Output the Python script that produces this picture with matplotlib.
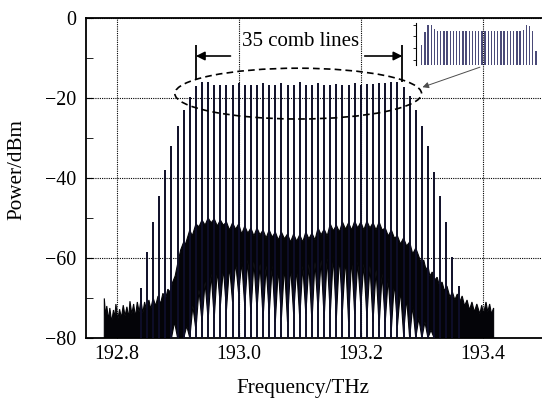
import numpy as np
import matplotlib
matplotlib.use("Agg")
from matplotlib import pyplot as plt
from matplotlib.patches import Ellipse

plt.rcParams['font.family'] = ['Liberation Serif', 'DejaVu Serif']
plt.rcParams['axes.unicode_minus'] = True

# ---- data ----
# comb lines: frequency (THz) and peak power (dBm)
comb_freq = [192.84, 192.85, 192.86, 192.87, 192.88, 192.89, 192.90, 192.91,
             192.92, 192.93, 192.94, 192.95, 192.96, 192.97, 192.98, 192.99,
             193.00, 193.01, 193.02, 193.03, 193.04, 193.05, 193.06, 193.07,
             193.08, 193.09, 193.10, 193.11, 193.12, 193.13, 193.14, 193.15,
             193.16, 193.17, 193.18, 193.19, 193.20, 193.21, 193.22, 193.23,
             193.24, 193.25, 193.26, 193.27, 193.28, 193.29, 193.30, 193.31,
             193.32, 193.33, 193.34, 193.35, 193.36]
comb_peak = [-67.5, -58.4, -51.0, -44.5, -38.0, -32.0, -27.0, -23.0,
             -19.7, -17.0, -16.1, -15.9, -16.7, -16.8, -16.7, -16.8,
             -16.3, -16.8, -16.7, -16.8, -16.3, -16.8, -16.8, -16.3,
             -16.7, -16.8, -16.1, -16.8, -16.7, -16.3, -16.8, -16.7,
             -16.5, -16.8, -16.7, -16.3, -16.8, -16.5, -16.5, -16.3,
             -16.3, -15.9, -15.9, -17.2, -19.5, -23.0, -27.0, -32.0,
             -38.5, -44.5, -51.0, -59.8, -67.0]
# lowest point of the dark skirt under each comb line (dBm)
skirt_low = [-80, -80, -80, -80, -80, -80, -80, -80,
             -80, -78, -76, -75.5, -75, -72, -73, -71,
             -69, -72, -74, -73, -75, -74, -76, -75,
             -76, -74, -75, -74, -76, -73, -75, -74,
             -75, -73, -76, -74, -72, -75, -76, -77,
             -76, -78, -77, -79, -80, -80, -80, -80,
             -80, -80, -80, -80, -80]
# top of the white notch halfway between neighbouring lines (dBm)
notch_top = [-80, -80, -80, -80, -80, -76, -80, -77,
             -72, -68, -66, -64, -63, -62.5, -62, -61,
             -61, -60.5, -61, -61.5, -62, -62, -62.5, -62,
             -62, -62.5, -62, -61.5, -61, -60.5, -60, -59.5,
             -59.5, -60, -60, -61, -61.5, -62, -63, -64,
             -65, -66, -68, -70, -72, -75, -76, -78,
             -80, -80, -80, -80]
# upper edge of the noise floor and of the pedestal under the comb
floor_freq = [192.780, 192.782, 192.784, 192.787, 192.789, 192.792, 192.795,
              192.797, 192.799, 192.802, 192.805, 192.808, 192.811, 192.814,
              192.817, 192.820, 192.822, 192.825, 192.828, 192.831, 192.834,
              192.837, 192.840, 192.843, 192.846, 192.849, 192.853, 192.856,
              192.860, 192.864, 192.868, 192.872, 192.876, 192.880, 192.884,
              192.888, 192.892, 192.896, 192.900, 192.905, 192.910, 192.913,
              192.920, 192.924, 192.930, 192.935, 192.940, 192.945, 192.950,
              192.955, 192.960, 192.965, 192.970, 192.975, 192.980, 192.985,
              192.990, 192.995, 193.000, 193.005, 193.010, 193.015, 193.020,
              193.025, 193.030, 193.035, 193.040, 193.045, 193.050, 193.055,
              193.060, 193.065, 193.070, 193.075, 193.080, 193.085, 193.090,
              193.095, 193.100, 193.105, 193.110, 193.115, 193.120, 193.125,
              193.130, 193.135, 193.140, 193.145, 193.150, 193.155, 193.160,
              193.165, 193.170, 193.175, 193.180, 193.185, 193.190, 193.195,
              193.200, 193.205, 193.210, 193.215, 193.220, 193.225, 193.230,
              193.235, 193.240, 193.245, 193.250, 193.255, 193.260, 193.265,
              193.270, 193.275, 193.280, 193.285, 193.290, 193.296, 193.300,
              193.303, 193.307, 193.310, 193.313, 193.317, 193.321, 193.325,
              193.329, 193.333, 193.337, 193.341, 193.346, 193.350, 193.354,
              193.358, 193.362, 193.366, 193.370, 193.374, 193.378, 193.382,
              193.386, 193.390, 193.395, 193.398, 193.401, 193.405, 193.408,
              193.411, 193.414, 193.4175]
floor_top = [-70.1, -74.5, -72.0, -75.5, -72.5, -76.0, -73.0,
             -75.0, -71.5, -75.5, -72.8, -75.0, -71.8, -74.5,
             -72.2, -75.0, -70.8, -74.0, -71.5, -74.8, -71.0,
             -73.5, -70.5, -73.8, -71.0, -73.0, -70.5, -72.8,
             -70.0, -72.0, -69.5, -71.5, -68.8, -70.5, -67.8,
             -68.5, -66.0, -64.5, -61.5, -58.0, -56.0, -56.5,
             -53.0, -54.5, -51.5, -52.2, -50.5, -51.8, -50.0,
             -51.2, -50.2, -52.0, -50.5, -51.8, -51.0, -53.0,
             -51.2, -52.8, -51.5, -54.0, -52.0, -53.8, -52.5,
             -54.5, -52.5, -54.2, -53.0, -55.0, -53.0, -54.8,
             -53.5, -55.5, -53.5, -55.2, -54.0, -56.0, -54.0,
             -55.8, -54.2, -56.0, -53.5, -55.2, -53.8, -55.5,
             -52.5, -54.2, -52.8, -54.5, -51.5, -53.2, -51.8,
             -53.5, -51.0, -52.8, -51.2, -53.0, -50.8, -52.5,
             -51.0, -53.0, -50.8, -52.5, -51.2, -53.0, -51.0,
             -53.0, -52.5, -54.5, -53.0, -55.0, -54.5, -56.5,
             -55.0, -57.0, -56.0, -59.0, -57.5, -60.0, -61.5,
             -60.5, -63.0, -62.0, -64.5, -63.5, -65.5, -64.8,
             -67.0, -66.0, -68.2, -67.0, -69.8, -68.5, -70.5,
             -69.0, -71.0, -69.5, -72.0, -70.5, -73.0, -71.0,
             -73.5, -71.5, -74.0, -71.8, -74.0, -71.0, -73.5,
             -71.5, -74.0, -72.5]
# inset: close-up of the flat part of the comb (arbitrary units)
inset_peak = [12.9, 23.7, 29.4, 29.4, 26.3, 24.9, 24.9, 24.9, 24.9, 24.9,
              24.3, 24.9, 24.3, 24.3, 24.3, 24.9, 24.3, 24.9, 24.3, 24.9,
              24.9, 24.3, 24.3, 24.3, 24.9, 24.9, 24.3, 24.9, 24.9, 24.3,
              24.9, 24.9, 25.7, 29.4, 28.6, 24.3, 7.1]

xticks = [192.8, 193.0, 193.2, 193.4]
yticks = [0, -20, -40, -60, -80]

# ---- figure ----
fig = plt.figure(figsize=(5.42, 4.0), dpi=100)
ax = fig.add_axes([86 / 542, 62 / 400, 458 / 542, 320 / 400])
ink = '#040408'

# pedestal / noise polygon: upper edge left to right, lower zig-zag back
comb_freq_a = np.array(comb_freq)
mid_freq = (comb_freq_a[:-1] + comb_freq_a[1:]) / 2
low_f, low_v = [], []
for k in range(len(comb_freq)):
    low_f.append(comb_freq[k])
    low_v.append(skirt_low[k])
    if k < len(mid_freq):
        low_f.append(mid_freq[k])
        low_v.append(notch_top[k])
poly_f = [floor_freq[0]] + floor_freq + [floor_freq[-1]] + low_f[::-1]
poly_v = [-80] + floor_top + [-80] + low_v[::-1]
ax.fill(poly_f, poly_v, color=ink, lw=0.8, ec=ink, zorder=2)

# comb lines
ax.vlines(comb_freq, -80, comb_peak, colors='#0e0e28', lw=1.4, zorder=3)

ax.set_xlim(192.75, 193.5)
ax.set_ylim(-80, 0)
ax.set_xticks(xticks)
ax.set_xticklabels(['%.1f' % t for t in xticks])
ax.set_yticks(yticks)
ax.set_yticklabels(['0' if t == 0 else '\u2212%d' % -t for t in yticks])
ax.set_yticks([-10, -30, -50, -70], minor=True)
ax.tick_params(axis='both', which='both', direction='in', labelsize=14.4)
ax.tick_params(axis='y', which='both', length=5, pad=7)
ax.tick_params(axis='x', length=4, pad=5)
ax.grid(True, which='major', color='black', linestyle=(0, (1, 1)), lw=0.8)
ax.set_axisbelow(True)
for s in ['left', 'top', 'bottom']:
    ax.spines[s].set_linewidth(1.3)
ax.spines['right'].set_visible(False)

ax.set_xlabel('Frequency/THz', fontsize=15.2)
ax.xaxis.set_label_coords((303 - 86) / 458, -(388 - 338) / 320)
ax.xaxis.label.set_va('center')
ax.set_ylabel('Power/dBm', fontsize=15.2)
ax.yaxis.set_label_coords(-(86 - 17) / 458, (338 - 170) / 320)
ax.yaxis.label.set_va('center')

# annotation: ellipse, bars, arrows, text
ax.add_patch(Ellipse((193.0975, -18.9), 0.404, 12.7, fill=False,
                     ls=(0, (4, 2.5)), lw=1.2, color='black', zorder=4))
ax.vlines([192.93], -15.5, -6.75, colors='black', lw=1.3, zorder=4)
ax.vlines([193.268], -15.9, -6.75, colors='black', lw=1.3, zorder=4)
arr = dict(arrowstyle='-|>', color='black', lw=1.2, mutation_scale=13,
           shrinkA=0, shrinkB=0)
ax.annotate('', xy=(192.93, -9.5), xytext=(192.9866, -9.5), arrowprops=arr)
ax.annotate('', xy=(193.268, -9.5), xytext=(193.2064, -9.5), arrowprops=arr)
ax.text(193.101, -6.9, '35 comb lines', fontsize=15, ha='center',
        va='baseline', zorder=5)
ax.annotate('', xy=(193.301, -17.3), xytext=(193.395, -12.3),
            arrowprops=dict(arrowstyle='-|>', color='0.3', lw=0.7,
                            mutation_scale=9, shrinkA=0, shrinkB=0))

# inset
ins = fig.add_axes([416 / 542, 1 - 64.7 / 400, 124 / 542, 41.7 / 400])
ins.patch.set_visible(False)
idx = np.arange(len(inset_peak))
ins.bar(idx, np.array(inset_peak) + 4.3, bottom=-4.3, width=0.42,
        color='#4a4a78')
ins.set_xlim(-1.8, 37.3)
ins.set_ylim(-4.3, 31.4)
for s in ['right', 'top', 'bottom']:
    ins.spines[s].set_visible(False)
ins.spines['left'].set_linewidth(0.8)
ins.set_xticks([])
ins.set_yticks([0, 10, 20, 30])
ins.set_yticklabels([])
ins.tick_params(axis='y', length=2, width=0.6, direction='out')

fig.savefig('out.png', dpi=100)
